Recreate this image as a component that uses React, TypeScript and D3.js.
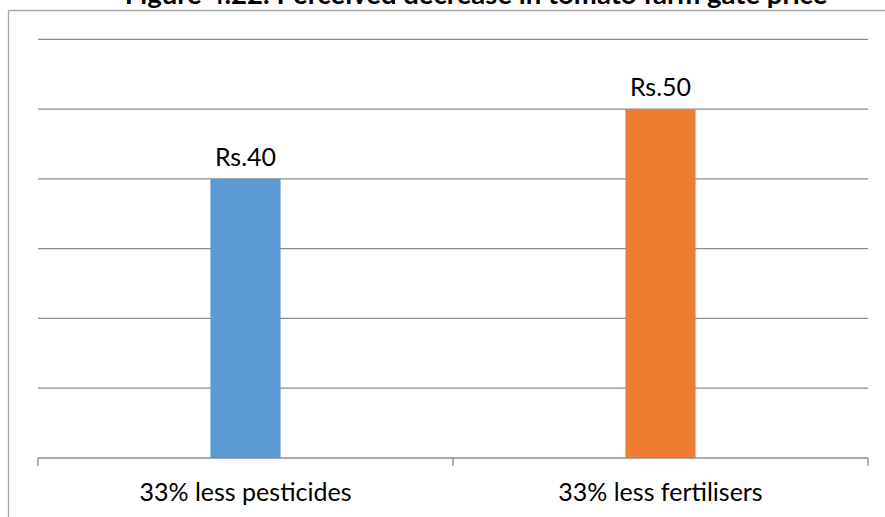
import React from "react";
import * as d3 from "d3";

const title = "Figure 4.22: Perceived decrease in tomato farm gate price";
const categories = ["33% less pesticides", "33% less fertilisers"];
const values = [40, 50];
const valueLabels = ["Rs.40", "Rs.50"];
const colors = ["#5B9BD5", "#ED7D31"];
const gridTicks = [0, 10, 20, 30, 40, 50, 60];

const W = 885;
const H = 517;
const plotLeft = 38;
const plotRight = 868;
const plotTop = 39.3;
const plotBottom = 458;

export default function App() {
  const x = d3
    .scaleBand<string>()
    .domain(categories)
    .range([plotLeft, plotRight])
    .paddingInner(0.831)
    .paddingOuter(0.4155);
  const xOuter = d3.scaleBand<string>().domain(categories).range([plotLeft, plotRight]).padding(0);
  const y = d3.scaleLinear().domain([0, 60]).range([plotBottom, plotTop]);
  const font = "Lato, 'Open Sans', sans-serif";
  const tickX = [plotLeft, ...categories.map((c) => (xOuter(c) as number) + xOuter.bandwidth())];

  return (
    <svg
      width={W}
      height={H}
      style={{ position: "absolute", left: 0, top: 0, background: "#fff" }}
    >
      <rect x={0} y={0} width={W} height={H} fill="#fff" />
      {/* outer chart border */}
      <line x1={8.5} x2={8.5} y1={10.5} y2={H} stroke="#a6a6a6" strokeWidth={1.3} />
      <line x1={8.5} x2={W} y1={10.5} y2={10.5} stroke="#a6a6a6" strokeWidth={1.3} />
      {/* title */}
      <text
        x={476}
        y={3.5}
        textAnchor="middle"
        fontFamily={font}
        fontWeight="bold"
        fontSize={27.5}
        fill="#000"
      >
        {title}
      </text>
      {/* gridlines */}
      {gridTicks.slice(1).map((t) => (
        <line
          key={t}
          x1={plotLeft}
          x2={plotRight}
          y1={y(t)}
          y2={y(t)}
          stroke="#8c8c8c"
          strokeWidth={1.3}
        />
      ))}
      {/* bars */}
      {categories.map((c, i) => (
        <rect
          key={c}
          x={x(c)}
          y={y(values[i])}
          width={x.bandwidth()}
          height={plotBottom - y(values[i])}
          fill={colors[i]}
        />
      ))}
      {/* x axis */}
      <line x1={plotLeft} x2={plotRight} y1={plotBottom} y2={plotBottom} stroke="#8c8c8c" strokeWidth={1.3} />
      {tickX.map((tx, i) => (
        <line key={i} x1={tx} x2={tx} y1={plotBottom} y2={plotBottom + 8} stroke="#8c8c8c" strokeWidth={1.3} />
      ))}
      {/* value labels */}
      {categories.map((c, i) => (
        <text
          key={c}
          x={(x(c) as number) + x.bandwidth() / 2}
          y={y(values[i]) - 13}
          textAnchor="middle"
          fontFamily={font}
          fontSize={25}
          fill="#000"
        >
          {valueLabels[i]}
        </text>
      ))}
      {/* category labels */}
      {categories.map((c) => (
        <text
          key={c}
          x={(xOuter(c) as number) + xOuter.bandwidth() / 2}
          y={501}
          textAnchor="middle"
          fontFamily={font}
          fontSize={25}
          fill="#000"
        >
          {c}
        </text>
      ))}
    </svg>
  );
}
